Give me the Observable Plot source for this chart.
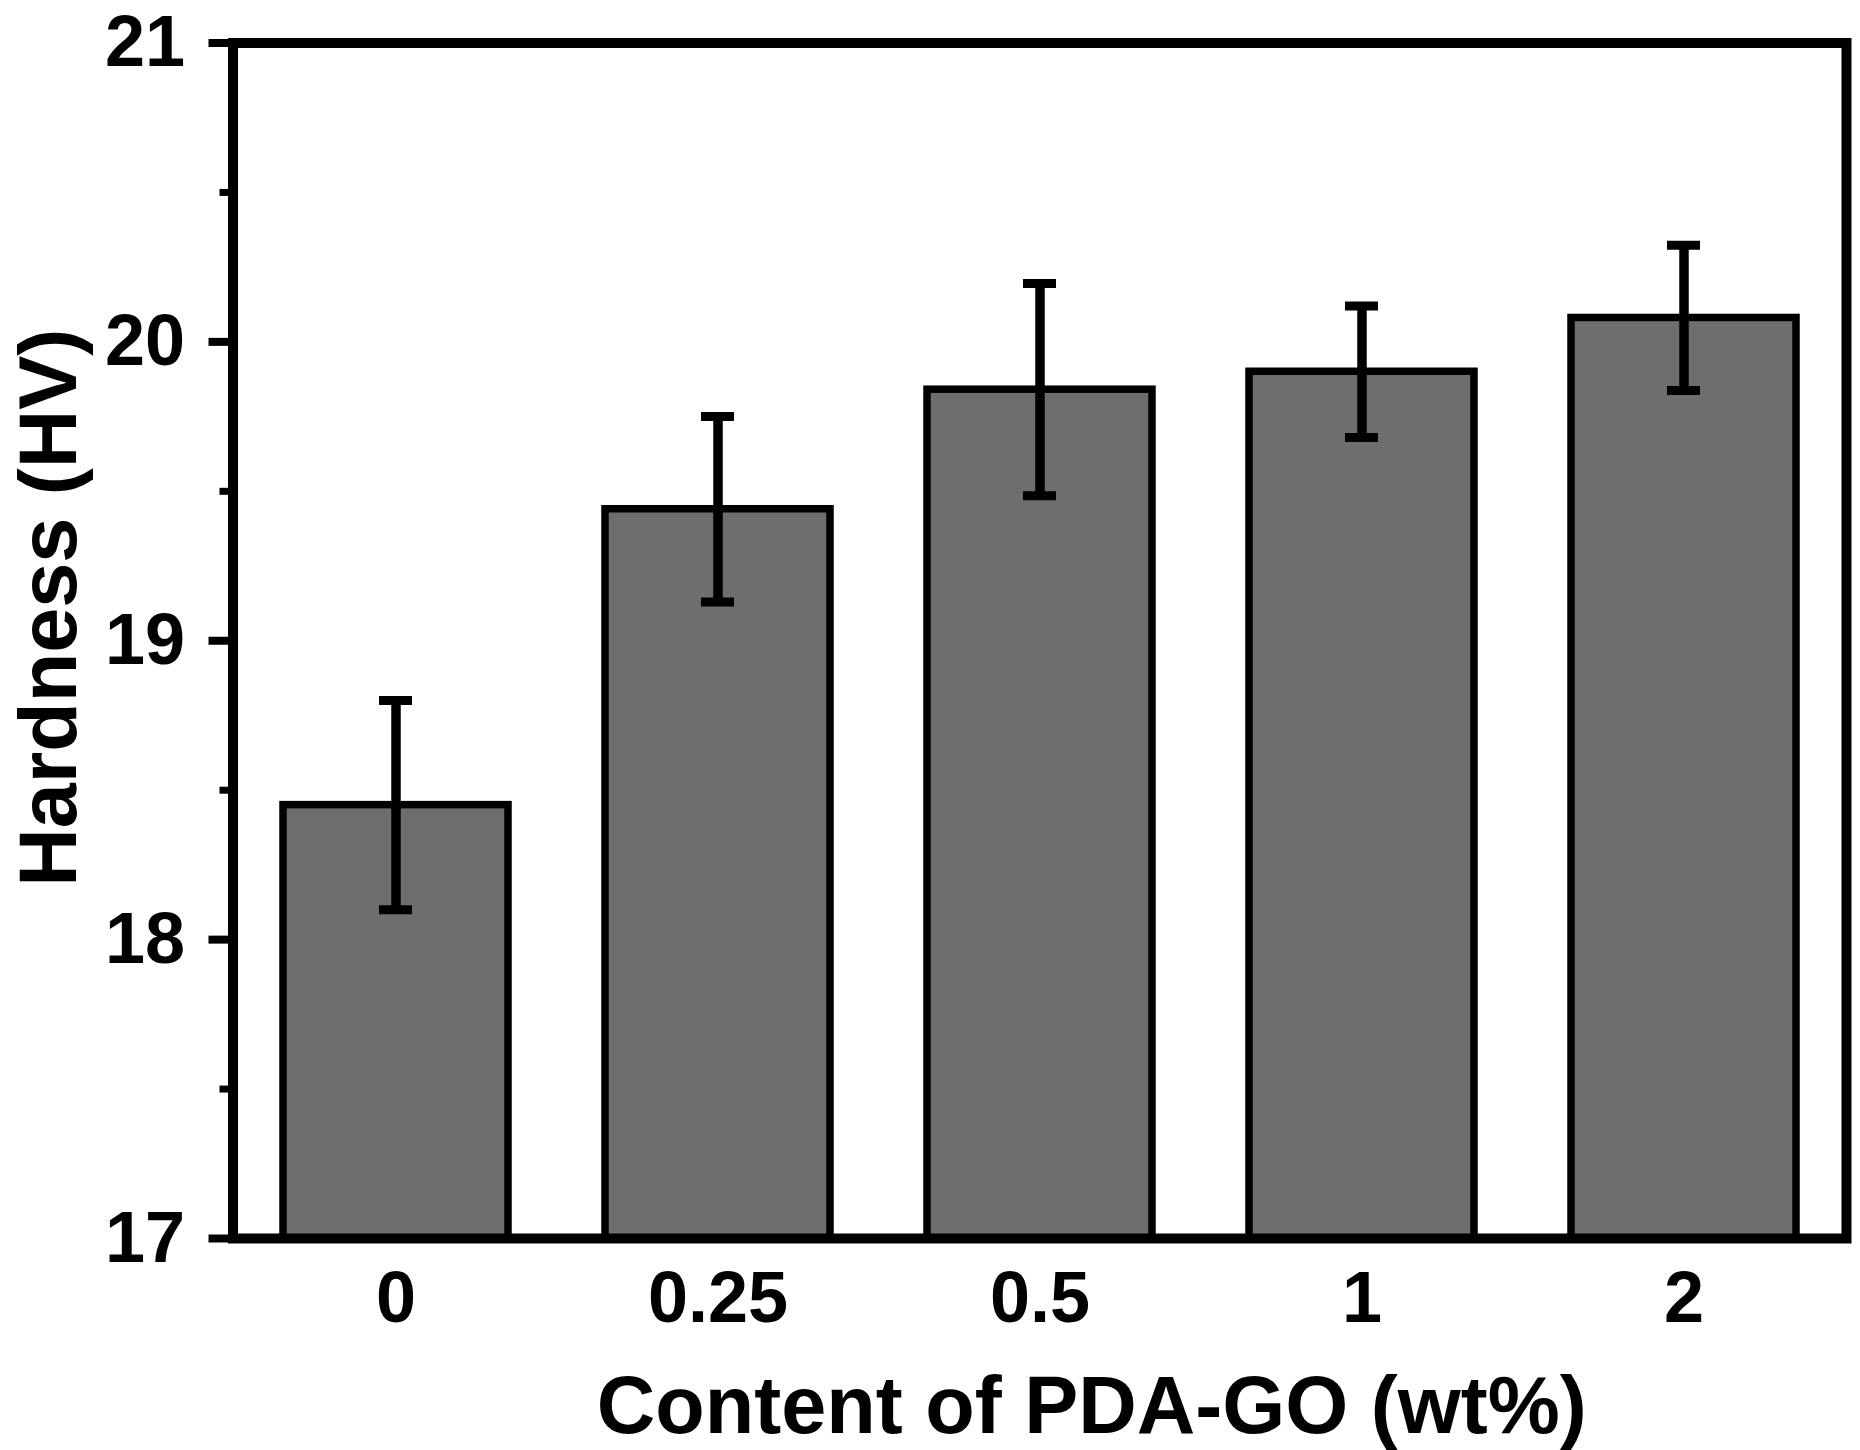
<!DOCTYPE html>
<html>
<head>
<meta charset="utf-8">
<script src="https://cdn.jsdelivr.net/npm/d3@7"></script>
<script src="https://cdn.jsdelivr.net/npm/@observablehq/plot@0.6"></script>
<style>
  html, body { margin: 0; padding: 0; background: #ffffff; }
</style>
</head>
<body>
<div id="chart"></div>
<script>
const categories = ["0", "0.25", "0.5", "1", "2"];
const hardness = [18.45, 19.44, 19.84, 19.90, 20.08];
const errors = [0.35, 0.31, 0.355, 0.22, 0.243];
const majorTicks = [17, 18, 19, 20, 21];
const minorTicks = [17.5, 18.5, 19.5, 20.5];
const xLabel = "Content of PDA-GO (wt%)";
const yLabel = "Hardness (HV)";

const data = categories.map((c, i) => ({c, v: hardness[i], e: errors[i]}));
const font = "'Liberation Sans', Arial, Helvetica, sans-serif";

const chart = Plot.plot({
  width: 1860,
  height: 1450,
  marginLeft: 232.5,
  marginRight: 14,
  marginTop: 42.5,
  marginBottom: 212,
  style: {fontFamily: font, fontWeight: "bold", background: "#ffffff", color: "black"},
  x: {type: "band", domain: categories, paddingInner: 0.3, paddingOuter: 0.15, axis: null},
  y: {domain: [17, 21], axis: null},
  marks: [
    Plot.barY(data, {x: "c", y1: 17, y2: "v", fill: "#6e6e6e", stroke: "black", strokeWidth: 7.5}),
    Plot.ruleX(data, {x: "c", y1: d => d.v - d.e, y2: d => d.v + d.e, stroke: "black", strokeWidth: 9.5}),
    Plot.tickY(data, {x: "c", y: d => d.v + d.e, stroke: "black", strokeWidth: 9, insetLeft: 96, insetRight: 96}),
    Plot.tickY(data, {x: "c", y: d => d.v - d.e, stroke: "black", strokeWidth: 9, insetLeft: 96, insetRight: 96}),
    Plot.frame({stroke: "black", strokeWidth: 10}),
    Plot.axisY({ticks: majorTicks, tickSize: 24, tickPadding: 24, strokeWidth: 8, fontSize: 72, fontWeight: "bold", label: null, tickFormat: d => String(d)}),
    Plot.axisY({ticks: minorTicks, tickSize: 13, strokeWidth: 7, label: null, tickFormat: () => ""}),
    Plot.axisX({tickSize: 0, tickPadding: 32, fontSize: 72, fontWeight: "bold", label: null}),
    Plot.text([xLabel], {text: d => d, frameAnchor: "bottom", lineAnchor: "bottom", dx: 52, dy: 194, fontSize: 81, fontWeight: "bold", fill: "black"}),
    Plot.text([yLabel], {text: d => d, frameAnchor: "left", rotate: -90, lineAnchor: "bottom", textAnchor: "middle", dx: -157, dy: -33, fontSize: 81, fontWeight: "bold", fill: "black"})
  ]
});
document.getElementById("chart").appendChild(chart);
</script>
</body>
</html>
